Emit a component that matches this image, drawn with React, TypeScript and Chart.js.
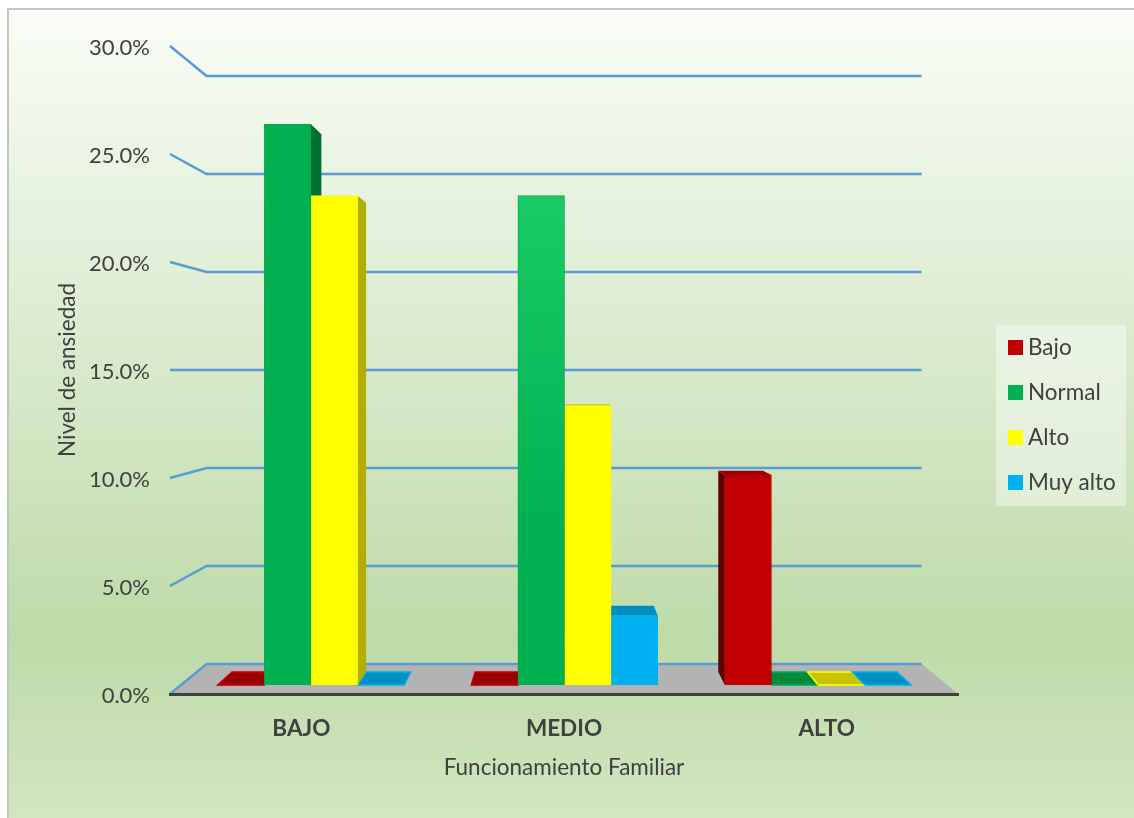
import React, { useEffect, useRef } from "react";
import { Chart, registerables } from "chart.js";

Chart.register(...registerables);

const categories = ["BAJO", "MEDIO", "ALTO"];
const categoryPositions = [0, 1, 2];
const seriesNames = ["Bajo", "Normal", "Alto", "Muy alto"];
const bajoValues = [0, 0, 10.0];
const normalValues = [26.7, 23.3, 0];
const altoValues = [23.3, 13.3, 0];
const muyAltoValues = [0, 3.3, 0];
const seriesValues = [bajoValues, normalValues, altoValues, muyAltoValues];

const frontColors = ["#C00000", "#00B050", "#FFFF00", "#00B0F0"];
const sideColors = ["#5E0000", "#007030", "#B3AE00", "#0088B8"];
const topColors = ["#9A0000", "#008A3C", "#C8C400", "#008FC2"];

const FONT = "Lato, 'Open Sans', sans-serif";
const TEXT = "#404040";
const GRID = "#5B9BD5";

// Perspective of the box: everything recedes towards this point.
const VANISH_X = 565;
const VANISH_Y = 370;
const WALL_DEPTH = 0.0926;
const BAR_DEPTH = 0.041;

const recede = (x: number, y: number, k: number): [number, number] => [
  x + (VANISH_X - x) * k,
  y + (VANISH_Y - y) * k,
];

const fillQuad = (ctx: CanvasRenderingContext2D, pts: [number, number][], fill: string, stroke?: string) => {
  ctx.beginPath();
  pts.forEach(([x, y], i) => (i ? ctx.lineTo(x, y) : ctx.moveTo(x, y)));
  ctx.closePath();
  ctx.fillStyle = fill;
  ctx.fill();
  if (stroke) {
    ctx.strokeStyle = stroke;
    ctx.lineWidth = 1.5;
    ctx.stroke();
  }
};

const swatch = (color: string) => {
  const c = document.createElement("canvas");
  c.width = 15;
  c.height = 15;
  const g = c.getContext("2d")!;
  g.fillStyle = color;
  g.fillRect(0, 0, 15, 15);
  return c;
};

// Panel, back wall, floor and the receding faces of the bars.
const boxPlugin = {
  id: "box3d",
  afterLayout(chart: any) {
    const legend = chart.legend;
    legend.left = 991.75;
    legend.right = 1134;
    legend.top = 314;
    legend.bottom = 818;
    legend.adjustHitBoxes();
  },
  beforeDraw(chart: any) {
    const { ctx, width, height } = chart;
    ctx.save();
    ctx.fillStyle = "#FFFFFF";
    ctx.fillRect(0, 0, width, height);
    const bg = ctx.createLinearGradient(0, 9, 0, height);
    bg.addColorStop(0, "#FAFDF7");
    bg.addColorStop(0.78, "#BDDBA8");
    bg.addColorStop(1, "#D2E6C1");
    ctx.fillStyle = "#C4C4C4";
    ctx.fillRect(7, 8, width - 7, height - 8);
    ctx.fillStyle = bg;
    ctx.fillRect(9, 10, width - 9, height - 10);
    ctx.fillStyle = "rgba(255,255,255,0.42)";
    ctx.fillRect(996, 325, 130, 181);
    ctx.restore();
  },
  beforeDatasetsDraw(chart: any) {
    const { ctx, chartArea, scales } = chart;
    const { left, right, bottom } = chartArea;
    ctx.save();
    fillQuad(
      ctx,
      [[left, bottom], [right, bottom], recede(right, bottom, WALL_DEPTH), recede(left, bottom, WALL_DEPTH)],
      "#B3B3B3",
    );
    ctx.strokeStyle = GRID;
    ctx.lineWidth = 2.5;
    scales.y.ticks.forEach((tick: any) => {
      const y = scales.y.getPixelForValue(tick.value);
      const [bx, by] = recede(left, y, WALL_DEPTH);
      const [ex] = recede(right, y, WALL_DEPTH);
      ctx.beginPath();
      ctx.moveTo(left, y);
      ctx.lineTo(bx, by);
      ctx.lineTo(ex, by);
      ctx.stroke();
    });

    const metas = seriesValues.map((_, i) => chart.getDatasetMeta(i));
    // Empty bars lie flat on the floor.
    metas.forEach((meta: any, s: number) => {
      meta.data.forEach((bar: any, i: number) => {
        if (seriesValues[s][i] !== 0) return;
        const l = bar.x - bar.width / 2;
        const r = bar.x + bar.width / 2;
        fillQuad(
          ctx,
          [[l, bar.base], [r, bar.base], recede(r, bar.base, BAR_DEPTH), recede(l, bar.base, BAR_DEPTH)],
          topColors[s],
          frontColors[s],
        );
      });
    });
    metas.forEach((meta: any, s: number) => {
      meta.data.forEach((bar: any, i: number) => {
        if (seriesValues[s][i] === 0) return;
        const l = bar.x - bar.width / 2;
        const r = bar.x + bar.width / 2;
        const edge = r < VANISH_X + 1 ? r : l > VANISH_X ? l : null;
        if (edge !== null) {
          fillQuad(
            ctx,
            [[edge, bar.y], [edge, bar.base], recede(edge, bar.base, BAR_DEPTH), recede(edge, bar.y, BAR_DEPTH)],
            sideColors[s],
          );
        }
        if (bar.y > VANISH_Y) {
          fillQuad(ctx, [[l, bar.y], [r, bar.y], recede(r, bar.y, BAR_DEPTH), recede(l, bar.y, BAR_DEPTH)], topColors[s]);
        }
      });
    });
    ctx.restore();
  },
};

// The lit face of the tall central bar brightens towards its top.
const normalFace = (c: any) => {
  if (c.dataIndex !== 1 || !c.chart.chartArea) return frontColors[1];
  const scale = c.chart.scales.yBars;
  const g = c.chart.ctx.createLinearGradient(0, scale.getPixelForValue(normalValues[1]), 0, scale.getPixelForValue(0));
  g.addColorStop(0, "#19CB66");
  g.addColorStop(0.7, "#00B050");
  return g;
};

export default function App() {
  const ref = useRef<HTMLCanvasElement>(null);

  useEffect(() => {
    const chart = new Chart(ref.current!, {
      type: "bar",
      data: {
        labels: categories,
        datasets: seriesNames.map((label, s) => ({
          label,
          data: categoryPositions.map((x, i) => ({ x, y: seriesValues[s][i] })),
          backgroundColor: s === 1 ? normalFace : frontColors[s],
          borderColor: s === 1 ? "#00A84C" : frontColors[s],
          borderWidth: (c: any) => (seriesValues[s][c.dataIndex] === 0 ? 0 : 1),
          xAxisID: "xBars",
          yAxisID: "yBars",
          barThickness: 46.6,
        })),
      },
      plugins: [boxPlugin],
      options: {
        responsive: false,
        animation: false,
        layout: { autoPadding: false, padding: { top: 46, right: 176, bottom: 0, left: 0 } },
        plugins: {
          tooltip: { enabled: false },
          legend: {
            position: "chartArea",
            align: "start",
            labels: {
              usePointStyle: true,
              pointStyleWidth: 2.5,
              padding: 22.5,
              color: TEXT,
              font: { family: FONT, size: 22.5 },
              generateLabels: () =>
                seriesNames.map((text, i) => ({
                  text,
                  datasetIndex: i,
                  pointStyle: swatch(frontColors[i]),
                  fontColor: TEXT,
                  lineWidth: 0,
                })),
            },
          },
        },
        scales: {
          x: {
            type: "category",
            position: "bottom",
            offset: true,
            afterFit: (s: any) => {
              s.height = 124;
            },
            grid: { display: false },
            border: { display: true, color: "#404040", width: 3, z: 1 },
            ticks: {
              color: TEXT,
              padding: 13,
              maxRotation: 0,
              autoSkip: false,
              font: { family: FONT, size: 22.5, weight: "bold" },
            },
            title: {
              display: true,
              text: "Funcionamiento Familiar",
              color: TEXT,
              font: { family: FONT, size: 22.5 },
              padding: { top: 0, bottom: 36.5 },
            },
          },
          y: {
            type: "linear",
            position: "left",
            min: 0,
            max: 30,
            afterFit: (s: any) => {
              s.width = 170;
            },
            grid: { display: false },
            border: { display: false },
            ticks: {
              stepSize: 5,
              padding: 12,
              labelOffset: 2,
              color: TEXT,
              font: { family: FONT, size: 22 },
              callback: (v: any) => `${Number(v).toFixed(1)}%`,
            },
            title: {
              display: true,
              text: "Nivel de ansiedad",
              color: TEXT,
              font: { family: FONT, size: 22.5 },
              padding: { top: 54.5, bottom: 0 },
            },
          },
          // The bars stand in a plane slightly behind the front edge of the floor.
          xBars: { type: "linear", axis: "x", display: false, offset: false, min: -0.556, max: 2.552 },
          yBars: { type: "linear", axis: "y", display: false, min: -0.4286, max: 30.4286 },
        },
      },
    } as any);
    return () => chart.destroy();
  }, []);

  return (
    <canvas
      ref={ref}
      width={1134}
      height={818}
      style={{ position: "fixed", left: 0, top: 0, width: 1134, height: 818, display: "block" }}
    />
  );
}
